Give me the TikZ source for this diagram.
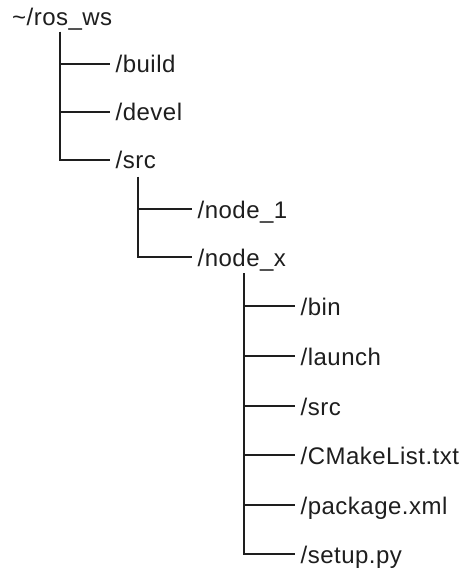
\documentclass[tikz,border=0pt]{standalone}
\usepackage{fontspec}
\newfontfamily\treefont[LetterSpace=2]{Liberation Sans}
\definecolor{ink}{HTML}{1E1E1E}
\begin{document}
\begin{tikzpicture}[x=1pt,y=-1pt,
  item/.style={anchor=west, font=\treefont\fontsize{24}{27}\selectfont,
    inner xsep=5.5pt, inner ysep=0pt, text height=18pt, text depth=0pt, text=ink},
  link/.style={draw=ink, line width=1.8pt}]
  \fill[white] (0,0) rectangle (460,569);
  \useasboundingbox (0,0) rectangle (460,569);

  % workspace root
  \node[item, anchor=base west, inner xsep=0pt] (root) at (12,26) {\textasciitilde/ros\_ws};
  \coordinate (r0) at (60,32);
  \node[item] (build) at (110,64)  {/build};
  \node[item] (devel) at (110,112) {/devel};
  \node[item] (src)   at (110,160) {/src};
  \foreach \c in {build,devel,src} \draw[link] (r0) |- (\c.west);

  % packages in src
  \coordinate (r1) at (138,177);
  \node[item] (node1) at (192,209) {/node\_1};
  \node[item] (nodex) at (192,257) {/node\_x};
  \foreach \c in {node1,nodex} \draw[link] (r1) |- (\c.west);

  % contents of one package
  \coordinate (r2) at (244,273);
  \node[item] (bin)    at (295,306) {/bin};
  \node[item] (launch) at (295,356) {/launch};
  \node[item] (psrc)   at (295,406) {/src};
  \node[item] (cmake)  at (295,455) {/CMakeList.txt};
  \node[item] (pkg)    at (295,505) {/package.xml};
  \node[item] (setup)  at (295,554) {/setup.py};
  \foreach \c in {bin,launch,psrc,cmake,pkg,setup} \draw[link] (r2) |- (\c.west);
\end{tikzpicture}
\end{document}
